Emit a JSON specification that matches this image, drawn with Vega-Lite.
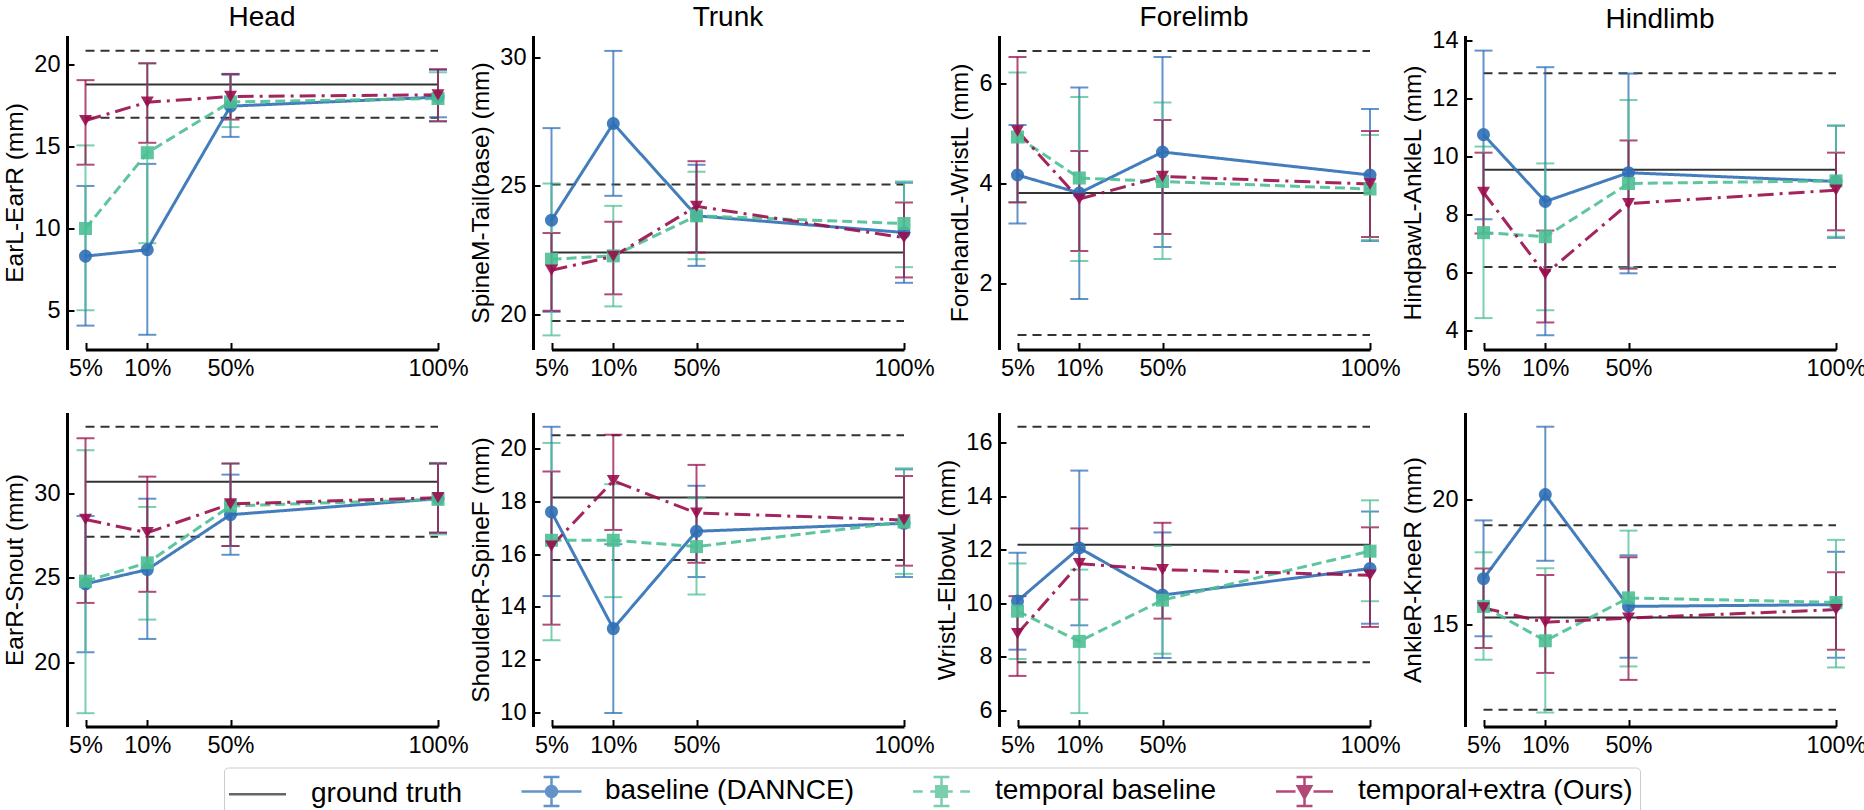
{
"$schema":"https://vega.github.io/schema/vega-lite/v6.json",
"padding":{"left":2,"top":3.5,"right":0,"bottom":0},
"autosize":{"type":"pad"},
"background":"white",
"config":{
 "view":{"stroke":null},
 "mark":{"invalid":null},
 "font":"Liberation Sans",
 "axis":{"grid":false,"domainColor":"black","domainWidth":3,"tickColor":"black","tickWidth":2,"tickSize":-7,"labelFontSize":23.5,"labelColor":"black","labelFont":"Liberation Sans","titleFont":"Liberation Sans","titleFontSize":24.5,"titleFontWeight":"normal","titleColor":"black","labelPadding":14,"labelFlush":false,"labelOverlap":false},
 "axisY":{"titlePadding":6},
 "axisX":{"labelPadding":13.5},
 "title":{"fontSize":28,"fontWeight":"normal","font":"Liberation Sans","color":"black","anchor":"middle","frame":"group","baseline":"alphabetic"},
 "legend":{"orient":"none","legendX":157,"legendY":732,"direction":"horizontal","labelFont":"Liberation Sans","labelFontSize":28,"labelColor":"black","labelLimit":400,"symbolSize":900,"symbolOffset":10,"labelOffset":37,"columnPadding":54,"padding":7,"strokeColor":"#cccccc","cornerRadius":4,"fillColor":"white"}
},
"datasets":{"d":[
{"panel":"P1","series":"ground truth","x0":5,"x1":100,"mean":18.8,"lo":16.77,"hi":20.87},
{"panel":"P1","series":"baseline (DANNCE)","pct":5,"mean":8.31,"lo":4.06,"hi":12.6},
{"panel":"P1","series":"baseline (DANNCE)","pct":10,"mean":8.7,"lo":3.5,"hi":13.95},
{"panel":"P1","series":"baseline (DANNCE)","pct":50,"mean":17.48,"lo":15.6,"hi":19.4},
{"panel":"P1","series":"baseline (DANNCE)","pct":100,"mean":18.03,"lo":16.8,"hi":19.7},
{"panel":"P1","series":"temporal baseline","pct":5,"mean":10.0,"lo":5.0,"hi":15.08},
{"panel":"P1","series":"temporal baseline","pct":10,"mean":14.63,"lo":9.1,"hi":20.1},
{"panel":"P1","series":"temporal baseline","pct":50,"mean":17.74,"lo":16.2,"hi":19.45},
{"panel":"P1","series":"temporal baseline","pct":100,"mean":17.95,"lo":16.54,"hi":19.55},
{"panel":"P1","series":"temporal+extra (Ours)","pct":5,"mean":16.6,"lo":13.9,"hi":19.07},
{"panel":"P1","series":"temporal+extra (Ours)","pct":10,"mean":17.72,"lo":15.24,"hi":20.1},
{"panel":"P1","series":"temporal+extra (Ours)","pct":50,"mean":18.07,"lo":16.66,"hi":19.45},
{"panel":"P1","series":"temporal+extra (Ours)","pct":100,"mean":18.17,"lo":16.56,"hi":19.74},
{"panel":"P2","series":"ground truth","x0":5,"x1":100,"mean":22.4,"lo":19.73,"hi":25.05},
{"panel":"P2","series":"baseline (DANNCE)","pct":5,"mean":23.66,"lo":20.09,"hi":27.25},
{"panel":"P2","series":"baseline (DANNCE)","pct":10,"mean":27.43,"lo":24.61,"hi":30.26},
{"panel":"P2","series":"baseline (DANNCE)","pct":50,"mean":23.83,"lo":21.88,"hi":25.82},
{"panel":"P2","series":"baseline (DANNCE)","pct":100,"mean":23.18,"lo":21.22,"hi":25.12},
{"panel":"P2","series":"temporal baseline","pct":5,"mean":22.14,"lo":19.17,"hi":25.09},
{"panel":"P2","series":"temporal baseline","pct":10,"mean":22.27,"lo":20.3,"hi":24.22},
{"panel":"P2","series":"temporal baseline","pct":50,"mean":23.83,"lo":22.14,"hi":25.55},
{"panel":"P2","series":"temporal baseline","pct":100,"mean":23.53,"lo":21.83,"hi":25.17},
{"panel":"P2","series":"temporal+extra (Ours)","pct":5,"mean":21.71,"lo":20.13,"hi":23.16},
{"panel":"P2","series":"temporal+extra (Ours)","pct":10,"mean":22.25,"lo":20.77,"hi":23.6},
{"panel":"P2","series":"temporal+extra (Ours)","pct":50,"mean":24.2,"lo":22.4,"hi":25.96},
{"panel":"P2","series":"temporal+extra (Ours)","pct":100,"mean":22.98,"lo":21.43,"hi":24.35},
{"panel":"P3","series":"ground truth","x0":5,"x1":100,"mean":3.81,"lo":0.97,"hi":6.65},
{"panel":"P3","series":"baseline (DANNCE)","pct":5,"mean":4.17,"lo":3.2,"hi":5.17},
{"panel":"P3","series":"baseline (DANNCE)","pct":10,"mean":3.81,"lo":1.69,"hi":5.92},
{"panel":"P3","series":"baseline (DANNCE)","pct":50,"mean":4.63,"lo":2.73,"hi":6.53},
{"panel":"P3","series":"baseline (DANNCE)","pct":100,"mean":4.17,"lo":2.85,"hi":5.49},
{"panel":"P3","series":"temporal baseline","pct":5,"mean":4.93,"lo":3.63,"hi":6.22},
{"panel":"P3","series":"temporal baseline","pct":10,"mean":4.11,"lo":2.45,"hi":5.73},
{"panel":"P3","series":"temporal baseline","pct":50,"mean":4.04,"lo":2.49,"hi":5.62},
{"panel":"P3","series":"temporal baseline","pct":100,"mean":3.89,"lo":2.87,"hi":4.97},
{"panel":"P3","series":"temporal+extra (Ours)","pct":5,"mean":5.05,"lo":3.62,"hi":6.53},
{"panel":"P3","series":"temporal+extra (Ours)","pct":10,"mean":3.69,"lo":2.65,"hi":4.65},
{"panel":"P3","series":"temporal+extra (Ours)","pct":50,"mean":4.14,"lo":2.99,"hi":5.27},
{"panel":"P3","series":"temporal+extra (Ours)","pct":100,"mean":3.99,"lo":2.93,"hi":5.05},
{"panel":"P4","series":"ground truth","x0":5,"x1":100,"mean":9.54,"lo":6.2,"hi":12.86},
{"panel":"P4","series":"baseline (DANNCE)","pct":5,"mean":10.75,"lo":7.84,"hi":13.64},
{"panel":"P4","series":"baseline (DANNCE)","pct":10,"mean":8.45,"lo":3.85,"hi":13.07},
{"panel":"P4","series":"baseline (DANNCE)","pct":50,"mean":9.44,"lo":5.98,"hi":12.85},
{"panel":"P4","series":"baseline (DANNCE)","pct":100,"mean":9.14,"lo":7.2,"hi":11.06},
{"panel":"P4","series":"temporal baseline","pct":5,"mean":7.38,"lo":4.44,"hi":10.34},
{"panel":"P4","series":"temporal baseline","pct":10,"mean":7.24,"lo":4.71,"hi":9.76},
{"panel":"P4","series":"temporal baseline","pct":50,"mean":9.07,"lo":6.18,"hi":11.94},
{"panel":"P4","series":"temporal baseline","pct":100,"mean":9.16,"lo":7.24,"hi":11.06},
{"panel":"P4","series":"temporal+extra (Ours)","pct":5,"mean":8.76,"lo":7.35,"hi":10.13},
{"panel":"P4","series":"temporal+extra (Ours)","pct":10,"mean":5.95,"lo":4.29,"hi":7.45},
{"panel":"P4","series":"temporal+extra (Ours)","pct":50,"mean":8.38,"lo":6.14,"hi":10.55},
{"panel":"P4","series":"temporal+extra (Ours)","pct":100,"mean":8.84,"lo":7.46,"hi":10.13},
{"panel":"P5","series":"ground truth","x0":5,"x1":100,"mean":30.71,"lo":27.44,"hi":33.97},
{"panel":"P5","series":"baseline (DANNCE)","pct":5,"mean":24.64,"lo":20.58,"hi":28.67},
{"panel":"P5","series":"baseline (DANNCE)","pct":10,"mean":25.49,"lo":21.37,"hi":29.7},
{"panel":"P5","series":"baseline (DANNCE)","pct":50,"mean":28.75,"lo":26.37,"hi":31.13},
{"panel":"P5","series":"baseline (DANNCE)","pct":100,"mean":29.7,"lo":27.68,"hi":31.79},
{"panel":"P5","series":"temporal baseline","pct":5,"mean":24.8,"lo":16.96,"hi":32.58},
{"panel":"P5","series":"temporal baseline","pct":10,"mean":25.89,"lo":22.52,"hi":29.21},
{"panel":"P5","series":"temporal baseline","pct":50,"mean":29.27,"lo":26.89,"hi":31.79},
{"panel":"P5","series":"temporal baseline","pct":100,"mean":29.66,"lo":27.58,"hi":31.83},
{"panel":"P5","series":"temporal+extra (Ours)","pct":5,"mean":28.47,"lo":23.51,"hi":33.29},
{"panel":"P5","series":"temporal+extra (Ours)","pct":10,"mean":27.68,"lo":24.17,"hi":31.01},
{"panel":"P5","series":"temporal+extra (Ours)","pct":50,"mean":29.39,"lo":26.89,"hi":31.79},
{"panel":"P5","series":"temporal+extra (Ours)","pct":100,"mean":29.76,"lo":27.68,"hi":31.79},
{"panel":"P6","series":"ground truth","x0":5,"x1":100,"mean":18.14,"lo":15.77,"hi":20.49},
{"panel":"P6","series":"baseline (DANNCE)","pct":5,"mean":17.59,"lo":14.41,"hi":20.81},
{"panel":"P6","series":"baseline (DANNCE)","pct":10,"mean":13.18,"lo":9.99,"hi":16.37},
{"panel":"P6","series":"baseline (DANNCE)","pct":50,"mean":16.86,"lo":15.13,"hi":18.58},
{"panel":"P6","series":"baseline (DANNCE)","pct":100,"mean":17.16,"lo":15.13,"hi":19.2},
{"panel":"P6","series":"temporal baseline","pct":5,"mean":16.52,"lo":12.74,"hi":20.2},
{"panel":"P6","series":"temporal baseline","pct":10,"mean":16.52,"lo":14.37,"hi":18.64},
{"panel":"P6","series":"temporal baseline","pct":50,"mean":16.28,"lo":14.47,"hi":18.11},
{"panel":"P6","series":"temporal baseline","pct":100,"mean":17.21,"lo":15.25,"hi":19.24},
{"panel":"P6","series":"temporal+extra (Ours)","pct":5,"mean":16.3,"lo":13.33,"hi":19.12},
{"panel":"P6","series":"temporal+extra (Ours)","pct":10,"mean":18.77,"lo":16.91,"hi":20.51},
{"panel":"P6","series":"temporal+extra (Ours)","pct":50,"mean":17.55,"lo":15.67,"hi":19.37},
{"panel":"P6","series":"temporal+extra (Ours)","pct":100,"mean":17.29,"lo":15.56,"hi":18.95},
{"panel":"P7","series":"ground truth","x0":5,"x1":100,"mean":12.18,"lo":7.79,"hi":16.59},
{"panel":"P7","series":"baseline (DANNCE)","pct":5,"mean":10.08,"lo":8.26,"hi":11.88},
{"panel":"P7","series":"baseline (DANNCE)","pct":10,"mean":12.06,"lo":9.17,"hi":14.95},
{"panel":"P7","series":"baseline (DANNCE)","pct":50,"mean":10.3,"lo":7.95,"hi":12.64},
{"panel":"P7","series":"baseline (DANNCE)","pct":100,"mean":11.29,"lo":9.23,"hi":13.42},
{"panel":"P7","series":"temporal baseline","pct":5,"mean":9.7,"lo":7.91,"hi":11.48},
{"panel":"P7","series":"temporal baseline","pct":10,"mean":8.57,"lo":5.89,"hi":11.25},
{"panel":"P7","series":"temporal baseline","pct":50,"mean":10.11,"lo":8.11,"hi":12.13},
{"panel":"P7","series":"temporal baseline","pct":100,"mean":11.94,"lo":10.07,"hi":13.84},
{"panel":"P7","series":"temporal+extra (Ours)","pct":5,"mean":8.86,"lo":7.28,"hi":10.26},
{"panel":"P7","series":"temporal+extra (Ours)","pct":10,"mean":11.47,"lo":10.13,"hi":12.79},
{"panel":"P7","series":"temporal+extra (Ours)","pct":50,"mean":11.25,"lo":9.42,"hi":13.0},
{"panel":"P7","series":"temporal+extra (Ours)","pct":100,"mean":11.04,"lo":9.11,"hi":12.83},
{"panel":"P8","series":"ground truth","x0":5,"x1":100,"mean":15.26,"lo":11.56,"hi":18.97},
{"panel":"P8","series":"baseline (DANNCE)","pct":5,"mean":16.82,"lo":14.51,"hi":19.16},
{"panel":"P8","series":"baseline (DANNCE)","pct":10,"mean":20.2,"lo":17.54,"hi":22.92},
{"panel":"P8","series":"baseline (DANNCE)","pct":50,"mean":15.71,"lo":13.65,"hi":17.76},
{"panel":"P8","series":"baseline (DANNCE)","pct":100,"mean":15.78,"lo":13.65,"hi":17.9},
{"panel":"P8","series":"temporal baseline","pct":5,"mean":15.71,"lo":13.57,"hi":17.88},
{"panel":"P8","series":"temporal baseline","pct":10,"mean":14.33,"lo":11.45,"hi":17.24},
{"panel":"P8","series":"temporal baseline","pct":50,"mean":16.05,"lo":13.3,"hi":18.75},
{"panel":"P8","series":"temporal baseline","pct":100,"mean":15.87,"lo":13.26,"hi":18.38},
{"panel":"P8","series":"temporal+extra (Ours)","pct":5,"mean":15.65,"lo":14.04,"hi":17.23},
{"panel":"P8","series":"temporal+extra (Ours)","pct":10,"mean":15.07,"lo":13.04,"hi":16.97},
{"panel":"P8","series":"temporal+extra (Ours)","pct":50,"mean":15.24,"lo":12.76,"hi":17.68},
{"panel":"P8","series":"temporal+extra (Ours)","pct":100,"mean":15.58,"lo":13.97,"hi":17.08}
]},
"data":{"name":"d"},
"columns":4,
"spacing":{"row":63,"column":76},
"bounds":"flush",
"resolve":{"scale":{"color":"shared","shape":"shared","strokeDash":"shared"}},
"concat":[
{"width":390,"height":314,"title":{"text":"Head","offset":3.75},
 "transform":[{"filter":"datum.panel==='P1'"}],
 "encoding":{"x":{"field":"pct","type":"quantitative","scale":{"domain":[5,10,50,100],"range":[18.5,80.3,163.5,371]},"axis":{"values":[5,10,50,100],"labelExpr":"datum.value+'%'","title":null}},
  "y":{"field":"mean","type":"quantitative","scale":{"domain":[2.6,21.8],"nice":false,"zero":false},"axis":{"values":[5,10,15,20],"title":"EarL-EarR (mm)"}}},
 "layer":[
  {"transform":[{"filter":"datum.series==='ground truth'"}],"mark":{"type":"rule","stroke":"#333333","strokeWidth":2},"encoding":{"x":{"field":"x0","type":"quantitative"},"x2":{"field":"x1"}}},
  {"transform":[{"filter":"datum.series==='ground truth'"}],"mark":{"type":"rule","stroke":"#333333","strokeWidth":2,"strokeDash":[9,6]},"encoding":{"x":{"field":"x0","type":"quantitative"},"x2":{"field":"x1"},"y":{"field":"lo","type":"quantitative"}}},
  {"transform":[{"filter":"datum.series==='ground truth'"}],"mark":{"type":"rule","stroke":"#333333","strokeWidth":2,"strokeDash":[9,6]},"encoding":{"x":{"field":"x0","type":"quantitative"},"x2":{"field":"x1"},"y":{"field":"hi","type":"quantitative"}}},
  {"transform":[{"filter":"datum.series!=='ground truth'"}],"mark":{"type":"errorbar","ticks":{"opacity":0.75},"rule":{"opacity":0.75},"size":18,"thickness":2},"encoding":{"y":{"field":"lo","type":"quantitative"},"y2":{"field":"hi"},"color":{"field":"series","type":"nominal","title":null,"scale":{"domain":["ground truth","baseline (DANNCE)","temporal baseline","temporal+extra (Ours)"],"range":["#333333","#2f6fb5","#4dbf93","#9a0d4c"]},
     "legend":{"title":null,"orient":"none","legendX":157,"legendY":732,"direction":"horizontal","symbolSize":900,"symbolOffset":10,"labelOffset":37,"columnPadding":54,"padding":7,"labelFont":"Liberation Sans","labelFontSize":28,"labelLimit":400,"strokeColor":"#cccccc","cornerRadius":4,"fillColor":"white","symbolOpacity":1,"symbolStrokeWidth":2.5,
      "symbolType":{"expr":"datum.value==='ground truth'?'M-1.9,0H1.9':datum.value==='baseline (DANNCE)'?'M-2,0H2M0,-0.97V0.97M-0.53,-0.97H0.53M-0.53,0.97H0.53M0.37,0A0.37,0.37,0,1,1,-0.37,0A0.37,0.37,0,1,1,0.37,0':datum.value==='temporal baseline'?'M-1.9,0H-1.25M-0.75,0H0.75M1.25,0H1.9M0,-0.97V0.97M-0.53,-0.97H0.53M-0.53,0.97H0.53M-0.35,-0.35H0.35V0.35H-0.35Z':'M-1.9,0H-0.6M0.6,0H1.9M0,-0.97V0.97M-0.53,-0.97H0.53M-0.53,0.97H0.53M-0.45,-0.35H0.45L0,0.45Z'"},
      "symbolStrokeColor":{"expr":"scale('color', datum.value)"}}}}},
  {"transform":[{"filter":"datum.series!=='ground truth'"}],"mark":{"type":"line","strokeWidth":3,"opacity":0.9},"encoding":{"color":{"field":"series","type":"nominal","title":null,
     "legend":{"title":null,"orient":"none","legendX":157,"legendY":732,"direction":"horizontal","symbolSize":900,"symbolOffset":10,"labelOffset":37,"columnPadding":54,"padding":7,"labelFont":"Liberation Sans","labelFontSize":28,"labelLimit":400,"strokeColor":"#cccccc","cornerRadius":4,"fillColor":"white","symbolOpacity":1,"symbolStrokeWidth":2.5,
      "symbolType":{"expr":"datum.value==='ground truth'?'M-1.9,0H1.9':datum.value==='baseline (DANNCE)'?'M-2,0H2M0,-0.97V0.97M-0.53,-0.97H0.53M-0.53,0.97H0.53M0.37,0A0.37,0.37,0,1,1,-0.37,0A0.37,0.37,0,1,1,0.37,0':datum.value==='temporal baseline'?'M-1.9,0H-1.25M-0.75,0H0.75M1.25,0H1.9M0,-0.97V0.97M-0.53,-0.97H0.53M-0.53,0.97H0.53M-0.35,-0.35H0.35V0.35H-0.35Z':'M-1.9,0H-0.6M0.6,0H1.9M0,-0.97V0.97M-0.53,-0.97H0.53M-0.53,0.97H0.53M-0.45,-0.35H0.45L0,0.45Z'"},
      "symbolStrokeColor":{"expr":"scale('color', datum.value)"}}},"strokeDash":{"field":"series","type":"nominal","scale":{"domain":["baseline (DANNCE)","temporal baseline","temporal+extra (Ours)"],"range":[[1,0],[10,5],[16,6,3,6]]},"legend":null}}},
  {"transform":[{"filter":"datum.series!=='ground truth'"}],"mark":{"type":"point","filled":true,"opacity":0.9,"size":170},"encoding":{
    "color":{"field":"series","type":"nominal","title":null,"scale":{"domain":["ground truth","baseline (DANNCE)","temporal baseline","temporal+extra (Ours)"],"range":["#333333","#2f6fb5","#4dbf93","#9a0d4c"]},
     "legend":{"title":null,"orient":"none","legendX":157,"legendY":732,"direction":"horizontal","symbolSize":900,"symbolOffset":10,"labelOffset":37,"columnPadding":54,"padding":7,"labelFont":"Liberation Sans","labelFontSize":28,"labelLimit":400,"strokeColor":"#cccccc","cornerRadius":4,"fillColor":"white","symbolOpacity":1,"symbolStrokeWidth":2.5,
      "symbolType":{"expr":"datum.value==='ground truth'?'M-1.9,0H1.9':datum.value==='baseline (DANNCE)'?'M-2,0H2M0,-0.97V0.97M-0.53,-0.97H0.53M-0.53,0.97H0.53M0.37,0A0.37,0.37,0,1,1,-0.37,0A0.37,0.37,0,1,1,0.37,0':datum.value==='temporal baseline'?'M-1.9,0H-1.25M-0.75,0H0.75M1.25,0H1.9M0,-0.97V0.97M-0.53,-0.97H0.53M-0.53,0.97H0.53M-0.35,-0.35H0.35V0.35H-0.35Z':'M-1.9,0H-0.6M0.6,0H1.9M0,-0.97V0.97M-0.53,-0.97H0.53M-0.53,0.97H0.53M-0.45,-0.35H0.45L0,0.45Z'"},
      "symbolStrokeColor":{"expr":"scale('color', datum.value)"}}},
    "shape":{"field":"series","type":"nominal","scale":{"domain":["baseline (DANNCE)","temporal baseline","temporal+extra (Ours)"],"range":["circle","square","triangle-down"]},"legend":null}}}
 ]},
{"width":390,"height":314,"title":{"text":"Trunk","offset":3.75},
 "transform":[{"filter":"datum.panel==='P2'"}],
 "encoding":{"x":{"field":"pct","type":"quantitative","scale":{"domain":[5,10,50,100],"range":[18.5,80.3,163.5,371]},"axis":{"values":[5,10,50,100],"labelExpr":"datum.value+'%'","title":null}},
  "y":{"field":"mean","type":"quantitative","scale":{"domain":[18.62,30.86],"nice":false,"zero":false},"axis":{"values":[20,25,30],"title":"SpineM-Tail(base) (mm)"}}},
 "layer":[
  {"transform":[{"filter":"datum.series==='ground truth'"}],"mark":{"type":"rule","stroke":"#333333","strokeWidth":2},"encoding":{"x":{"field":"x0","type":"quantitative"},"x2":{"field":"x1"}}},
  {"transform":[{"filter":"datum.series==='ground truth'"}],"mark":{"type":"rule","stroke":"#333333","strokeWidth":2,"strokeDash":[9,6]},"encoding":{"x":{"field":"x0","type":"quantitative"},"x2":{"field":"x1"},"y":{"field":"lo","type":"quantitative"}}},
  {"transform":[{"filter":"datum.series==='ground truth'"}],"mark":{"type":"rule","stroke":"#333333","strokeWidth":2,"strokeDash":[9,6]},"encoding":{"x":{"field":"x0","type":"quantitative"},"x2":{"field":"x1"},"y":{"field":"hi","type":"quantitative"}}},
  {"transform":[{"filter":"datum.series!=='ground truth'"}],"mark":{"type":"errorbar","ticks":{"opacity":0.75},"rule":{"opacity":0.75},"size":18,"thickness":2},"encoding":{"y":{"field":"lo","type":"quantitative"},"y2":{"field":"hi"},"color":{"field":"series","type":"nominal","title":null}}},
  {"transform":[{"filter":"datum.series!=='ground truth'"}],"mark":{"type":"line","strokeWidth":3,"opacity":0.9},"encoding":{"color":{"field":"series","type":"nominal","title":null},"strokeDash":{"field":"series","type":"nominal","scale":{"domain":["baseline (DANNCE)","temporal baseline","temporal+extra (Ours)"],"range":[[1,0],[10,5],[16,6,3,6]]},"legend":null}}},
  {"transform":[{"filter":"datum.series!=='ground truth'"}],"mark":{"type":"point","filled":true,"opacity":0.9,"size":170},"encoding":{"color":{"field":"series","type":"nominal","title":null},"shape":{"field":"series","type":"nominal","scale":{"domain":["baseline (DANNCE)","temporal baseline","temporal+extra (Ours)"],"range":["circle","square","triangle-down"]},"legend":null}}}
 ]},
{"width":390,"height":314,"title":{"text":"Forelimb","offset":3.75},
 "transform":[{"filter":"datum.panel==='P3'"}],
 "encoding":{"x":{"field":"pct","type":"quantitative","scale":{"domain":[5,10,50,100],"range":[18.5,80.3,163.5,371]},"axis":{"values":[5,10,50,100],"labelExpr":"datum.value+'%'","title":null}},
  "y":{"field":"mean","type":"quantitative","scale":{"domain":[0.68,6.96],"nice":false,"zero":false},"axis":{"values":[2,4,6],"title":"ForehandL-WristL (mm)"}}},
 "layer":[
  {"transform":[{"filter":"datum.series==='ground truth'"}],"mark":{"type":"rule","stroke":"#333333","strokeWidth":2},"encoding":{"x":{"field":"x0","type":"quantitative"},"x2":{"field":"x1"}}},
  {"transform":[{"filter":"datum.series==='ground truth'"}],"mark":{"type":"rule","stroke":"#333333","strokeWidth":2,"strokeDash":[9,6]},"encoding":{"x":{"field":"x0","type":"quantitative"},"x2":{"field":"x1"},"y":{"field":"lo","type":"quantitative"}}},
  {"transform":[{"filter":"datum.series==='ground truth'"}],"mark":{"type":"rule","stroke":"#333333","strokeWidth":2,"strokeDash":[9,6]},"encoding":{"x":{"field":"x0","type":"quantitative"},"x2":{"field":"x1"},"y":{"field":"hi","type":"quantitative"}}},
  {"transform":[{"filter":"datum.series!=='ground truth'"}],"mark":{"type":"errorbar","ticks":{"opacity":0.75},"rule":{"opacity":0.75},"size":18,"thickness":2},"encoding":{"y":{"field":"lo","type":"quantitative"},"y2":{"field":"hi"},"color":{"field":"series","type":"nominal","title":null}}},
  {"transform":[{"filter":"datum.series!=='ground truth'"}],"mark":{"type":"line","strokeWidth":3,"opacity":0.9},"encoding":{"color":{"field":"series","type":"nominal","title":null},"strokeDash":{"field":"series","type":"nominal","scale":{"domain":["baseline (DANNCE)","temporal baseline","temporal+extra (Ours)"],"range":[[1,0],[10,5],[16,6,3,6]]},"legend":null}}},
  {"transform":[{"filter":"datum.series!=='ground truth'"}],"mark":{"type":"point","filled":true,"opacity":0.9,"size":170},"encoding":{"color":{"field":"series","type":"nominal","title":null},"shape":{"field":"series","type":"nominal","scale":{"domain":["baseline (DANNCE)","temporal baseline","temporal+extra (Ours)"],"range":["circle","square","triangle-down"]},"legend":null}}}
 ]},
{"width":390,"height":314,"title":{"text":"Hindlimb","offset":-5.75},
 "transform":[{"filter":"datum.panel==='P4'"}],
 "encoding":{"x":{"field":"pct","type":"quantitative","scale":{"domain":[5,10,50,100],"range":[18.5,80.3,163.5,371]},"axis":{"values":[5,10,50,100],"labelExpr":"datum.value+'%'","title":null}},
  "y":{"field":"mean","type":"quantitative","scale":{"domain":[3.36,14.16],"nice":false,"zero":false},"axis":{"values":[4,6,8,10,12,14],"title":"HindpawL-AnkleL (mm)"}}},
 "layer":[
  {"transform":[{"filter":"datum.series==='ground truth'"}],"mark":{"type":"rule","stroke":"#333333","strokeWidth":2},"encoding":{"x":{"field":"x0","type":"quantitative"},"x2":{"field":"x1"}}},
  {"transform":[{"filter":"datum.series==='ground truth'"}],"mark":{"type":"rule","stroke":"#333333","strokeWidth":2,"strokeDash":[9,6]},"encoding":{"x":{"field":"x0","type":"quantitative"},"x2":{"field":"x1"},"y":{"field":"lo","type":"quantitative"}}},
  {"transform":[{"filter":"datum.series==='ground truth'"}],"mark":{"type":"rule","stroke":"#333333","strokeWidth":2,"strokeDash":[9,6]},"encoding":{"x":{"field":"x0","type":"quantitative"},"x2":{"field":"x1"},"y":{"field":"hi","type":"quantitative"}}},
  {"transform":[{"filter":"datum.series!=='ground truth'"}],"mark":{"type":"errorbar","ticks":{"opacity":0.75},"rule":{"opacity":0.75},"size":18,"thickness":2},"encoding":{"y":{"field":"lo","type":"quantitative"},"y2":{"field":"hi"},"color":{"field":"series","type":"nominal","title":null}}},
  {"transform":[{"filter":"datum.series!=='ground truth'"}],"mark":{"type":"line","strokeWidth":3,"opacity":0.9},"encoding":{"color":{"field":"series","type":"nominal","title":null},"strokeDash":{"field":"series","type":"nominal","scale":{"domain":["baseline (DANNCE)","temporal baseline","temporal+extra (Ours)"],"range":[[1,0],[10,5],[16,6,3,6]]},"legend":null}}},
  {"transform":[{"filter":"datum.series!=='ground truth'"}],"mark":{"type":"point","filled":true,"opacity":0.9,"size":170},"encoding":{"color":{"field":"series","type":"nominal","title":null},"shape":{"field":"series","type":"nominal","scale":{"domain":["baseline (DANNCE)","temporal baseline","temporal+extra (Ours)"],"range":["circle","square","triangle-down"]},"legend":null}}}
 ]},
{"width":390,"height":314,
 "transform":[{"filter":"datum.panel==='P5'"}],
 "encoding":{"x":{"field":"pct","type":"quantitative","scale":{"domain":[5,10,50,100],"range":[18.5,80.3,163.5,371]},"axis":{"values":[5,10,50,100],"labelExpr":"datum.value+'%'","title":null}},
  "y":{"field":"mean","type":"quantitative","scale":{"domain":[16.17,34.82],"nice":false,"zero":false},"axis":{"values":[20,25,30],"title":"EarR-Snout (mm)"}}},
 "layer":[
  {"transform":[{"filter":"datum.series==='ground truth'"}],"mark":{"type":"rule","stroke":"#333333","strokeWidth":2},"encoding":{"x":{"field":"x0","type":"quantitative"},"x2":{"field":"x1"}}},
  {"transform":[{"filter":"datum.series==='ground truth'"}],"mark":{"type":"rule","stroke":"#333333","strokeWidth":2,"strokeDash":[9,6]},"encoding":{"x":{"field":"x0","type":"quantitative"},"x2":{"field":"x1"},"y":{"field":"lo","type":"quantitative"}}},
  {"transform":[{"filter":"datum.series==='ground truth'"}],"mark":{"type":"rule","stroke":"#333333","strokeWidth":2,"strokeDash":[9,6]},"encoding":{"x":{"field":"x0","type":"quantitative"},"x2":{"field":"x1"},"y":{"field":"hi","type":"quantitative"}}},
  {"transform":[{"filter":"datum.series!=='ground truth'"}],"mark":{"type":"errorbar","ticks":{"opacity":0.75},"rule":{"opacity":0.75},"size":18,"thickness":2},"encoding":{"y":{"field":"lo","type":"quantitative"},"y2":{"field":"hi"},"color":{"field":"series","type":"nominal","title":null}}},
  {"transform":[{"filter":"datum.series!=='ground truth'"}],"mark":{"type":"line","strokeWidth":3,"opacity":0.9},"encoding":{"color":{"field":"series","type":"nominal","title":null},"strokeDash":{"field":"series","type":"nominal","scale":{"domain":["baseline (DANNCE)","temporal baseline","temporal+extra (Ours)"],"range":[[1,0],[10,5],[16,6,3,6]]},"legend":null}}},
  {"transform":[{"filter":"datum.series!=='ground truth'"}],"mark":{"type":"point","filled":true,"opacity":0.9,"size":170},"encoding":{"color":{"field":"series","type":"nominal","title":null},"shape":{"field":"series","type":"nominal","scale":{"domain":["baseline (DANNCE)","temporal baseline","temporal+extra (Ours)"],"range":["circle","square","triangle-down"]},"legend":null}}}
 ]},
{"width":390,"height":314,
 "transform":[{"filter":"datum.panel==='P6'"}],
 "encoding":{"x":{"field":"pct","type":"quantitative","scale":{"domain":[5,10,50,100],"range":[18.5,80.3,163.5,371]},"axis":{"values":[5,10,50,100],"labelExpr":"datum.value+'%'","title":null}},
  "y":{"field":"mean","type":"quantitative","scale":{"domain":[9.48,21.35],"nice":false,"zero":false},"axis":{"values":[10,12,14,16,18,20],"title":"ShoulderR-SpineF (mm)"}}},
 "layer":[
  {"transform":[{"filter":"datum.series==='ground truth'"}],"mark":{"type":"rule","stroke":"#333333","strokeWidth":2},"encoding":{"x":{"field":"x0","type":"quantitative"},"x2":{"field":"x1"}}},
  {"transform":[{"filter":"datum.series==='ground truth'"}],"mark":{"type":"rule","stroke":"#333333","strokeWidth":2,"strokeDash":[9,6]},"encoding":{"x":{"field":"x0","type":"quantitative"},"x2":{"field":"x1"},"y":{"field":"lo","type":"quantitative"}}},
  {"transform":[{"filter":"datum.series==='ground truth'"}],"mark":{"type":"rule","stroke":"#333333","strokeWidth":2,"strokeDash":[9,6]},"encoding":{"x":{"field":"x0","type":"quantitative"},"x2":{"field":"x1"},"y":{"field":"hi","type":"quantitative"}}},
  {"transform":[{"filter":"datum.series!=='ground truth'"}],"mark":{"type":"errorbar","ticks":{"opacity":0.75},"rule":{"opacity":0.75},"size":18,"thickness":2},"encoding":{"y":{"field":"lo","type":"quantitative"},"y2":{"field":"hi"},"color":{"field":"series","type":"nominal","title":null}}},
  {"transform":[{"filter":"datum.series!=='ground truth'"}],"mark":{"type":"line","strokeWidth":3,"opacity":0.9},"encoding":{"color":{"field":"series","type":"nominal","title":null},"strokeDash":{"field":"series","type":"nominal","scale":{"domain":["baseline (DANNCE)","temporal baseline","temporal+extra (Ours)"],"range":[[1,0],[10,5],[16,6,3,6]]},"legend":null}}},
  {"transform":[{"filter":"datum.series!=='ground truth'"}],"mark":{"type":"point","filled":true,"opacity":0.9,"size":170},"encoding":{"color":{"field":"series","type":"nominal","title":null},"shape":{"field":"series","type":"nominal","scale":{"domain":["baseline (DANNCE)","temporal baseline","temporal+extra (Ours)"],"range":["circle","square","triangle-down"]},"legend":null}}}
 ]},
{"width":390,"height":314,
 "transform":[{"filter":"datum.panel==='P7'"}],
 "encoding":{"x":{"field":"pct","type":"quantitative","scale":{"domain":[5,10,50,100],"range":[18.5,80.3,163.5,371]},"axis":{"values":[5,10,50,100],"labelExpr":"datum.value+'%'","title":null}},
  "y":{"field":"mean","type":"quantitative","scale":{"domain":[5.39,17.12],"nice":false,"zero":false},"axis":{"values":[6,8,10,12,14,16],"title":"WristL-ElbowL (mm)"}}},
 "layer":[
  {"transform":[{"filter":"datum.series==='ground truth'"}],"mark":{"type":"rule","stroke":"#333333","strokeWidth":2},"encoding":{"x":{"field":"x0","type":"quantitative"},"x2":{"field":"x1"}}},
  {"transform":[{"filter":"datum.series==='ground truth'"}],"mark":{"type":"rule","stroke":"#333333","strokeWidth":2,"strokeDash":[9,6]},"encoding":{"x":{"field":"x0","type":"quantitative"},"x2":{"field":"x1"},"y":{"field":"lo","type":"quantitative"}}},
  {"transform":[{"filter":"datum.series==='ground truth'"}],"mark":{"type":"rule","stroke":"#333333","strokeWidth":2,"strokeDash":[9,6]},"encoding":{"x":{"field":"x0","type":"quantitative"},"x2":{"field":"x1"},"y":{"field":"hi","type":"quantitative"}}},
  {"transform":[{"filter":"datum.series!=='ground truth'"}],"mark":{"type":"errorbar","ticks":{"opacity":0.75},"rule":{"opacity":0.75},"size":18,"thickness":2},"encoding":{"y":{"field":"lo","type":"quantitative"},"y2":{"field":"hi"},"color":{"field":"series","type":"nominal","title":null}}},
  {"transform":[{"filter":"datum.series!=='ground truth'"}],"mark":{"type":"line","strokeWidth":3,"opacity":0.9},"encoding":{"color":{"field":"series","type":"nominal","title":null},"strokeDash":{"field":"series","type":"nominal","scale":{"domain":["baseline (DANNCE)","temporal baseline","temporal+extra (Ours)"],"range":[[1,0],[10,5],[16,6,3,6]]},"legend":null}}},
  {"transform":[{"filter":"datum.series!=='ground truth'"}],"mark":{"type":"point","filled":true,"opacity":0.9,"size":170},"encoding":{"color":{"field":"series","type":"nominal","title":null},"shape":{"field":"series","type":"nominal","scale":{"domain":["baseline (DANNCE)","temporal baseline","temporal+extra (Ours)"],"range":["circle","square","triangle-down"]},"legend":null}}}
 ]},
{"width":390,"height":314,
 "transform":[{"filter":"datum.panel==='P8'"}],
 "encoding":{"x":{"field":"pct","type":"quantitative","scale":{"domain":[5,10,50,100],"range":[18.5,80.3,163.5,371]},"axis":{"values":[5,10,50,100],"labelExpr":"datum.value+'%'","title":null}},
  "y":{"field":"mean","type":"quantitative","scale":{"domain":[10.89,23.49],"nice":false,"zero":false},"axis":{"values":[15,20],"title":"AnkleR-KneeR (mm)"}}},
 "layer":[
  {"transform":[{"filter":"datum.series==='ground truth'"}],"mark":{"type":"rule","stroke":"#333333","strokeWidth":2},"encoding":{"x":{"field":"x0","type":"quantitative"},"x2":{"field":"x1"}}},
  {"transform":[{"filter":"datum.series==='ground truth'"}],"mark":{"type":"rule","stroke":"#333333","strokeWidth":2,"strokeDash":[9,6]},"encoding":{"x":{"field":"x0","type":"quantitative"},"x2":{"field":"x1"},"y":{"field":"lo","type":"quantitative"}}},
  {"transform":[{"filter":"datum.series==='ground truth'"}],"mark":{"type":"rule","stroke":"#333333","strokeWidth":2,"strokeDash":[9,6]},"encoding":{"x":{"field":"x0","type":"quantitative"},"x2":{"field":"x1"},"y":{"field":"hi","type":"quantitative"}}},
  {"transform":[{"filter":"datum.series!=='ground truth'"}],"mark":{"type":"errorbar","ticks":{"opacity":0.75},"rule":{"opacity":0.75},"size":18,"thickness":2},"encoding":{"y":{"field":"lo","type":"quantitative"},"y2":{"field":"hi"},"color":{"field":"series","type":"nominal","title":null}}},
  {"transform":[{"filter":"datum.series!=='ground truth'"}],"mark":{"type":"line","strokeWidth":3,"opacity":0.9},"encoding":{"color":{"field":"series","type":"nominal","title":null},"strokeDash":{"field":"series","type":"nominal","scale":{"domain":["baseline (DANNCE)","temporal baseline","temporal+extra (Ours)"],"range":[[1,0],[10,5],[16,6,3,6]]},"legend":null}}},
  {"transform":[{"filter":"datum.series!=='ground truth'"}],"mark":{"type":"point","filled":true,"opacity":0.9,"size":170},"encoding":{"color":{"field":"series","type":"nominal","title":null},"shape":{"field":"series","type":"nominal","scale":{"domain":["baseline (DANNCE)","temporal baseline","temporal+extra (Ours)"],"range":["circle","square","triangle-down"]},"legend":null}}}
 ]}
]
}
